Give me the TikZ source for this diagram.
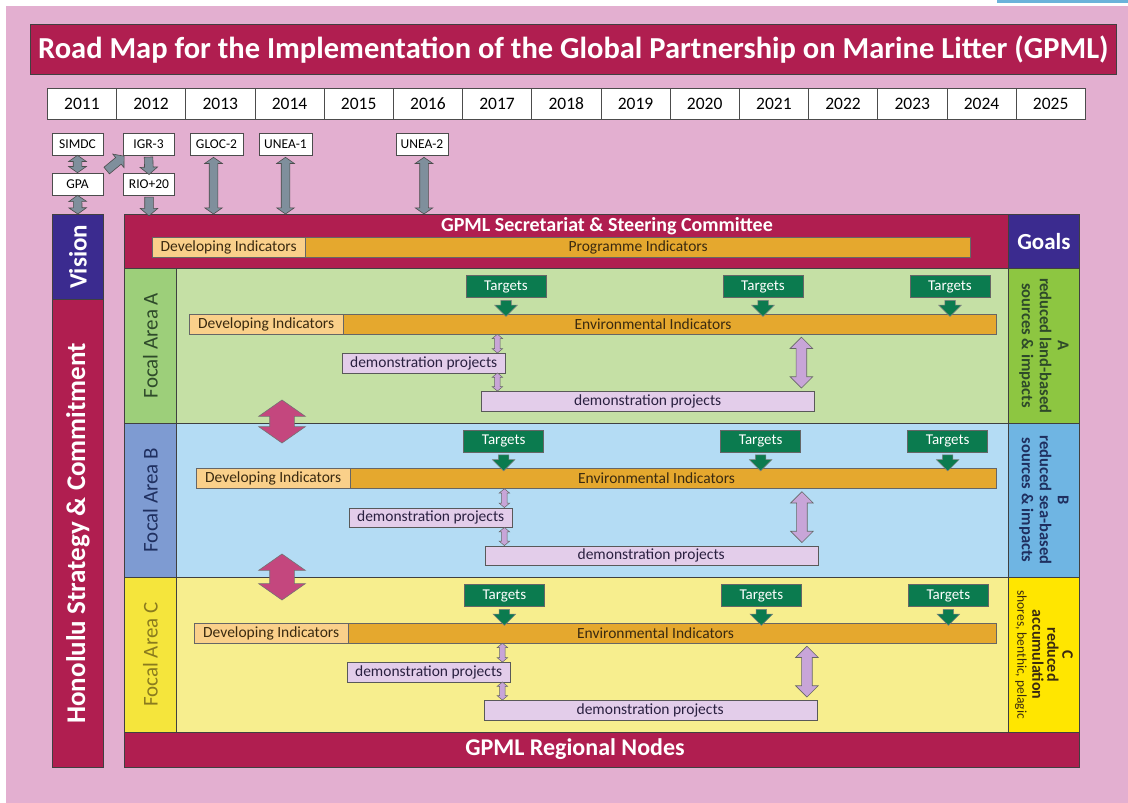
\documentclass[tikz,border=0pt]{standalone}
\usepackage{fontspec}
\setmainfont{Carlito}
\usetikzlibrary{shapes.arrows,calc}

% fat arrow shape stretched between two points
\newcommand{\fatarrow}[3]{%
  \path let \p1=(#2), \p2=(#3),
    \n1={veclen(\x2-\x1,\y2-\y1)}, \n2={atan2(\y2-\y1,\x2-\x1)} in
    node[#1, minimum height=\n1, rotate=\n2] at ($(\p1)!0.5!(\p2)$) {};}

\newcommand{\fs}[1]{\fontsize{#1}{#1}\selectfont}

\begin{document}
\begin{tikzpicture}[x=1pt, y=-1pt,
    bar/.style={draw=black!75, line width=0.7pt, inner sep=0pt},
    yearbox/.style={draw=black!70, fill=white, line width=0.6pt, minimum width=69.2, minimum height=31, inner sep=0pt, anchor=north west, font=\fs{17.5}},
    eventbox/.style={draw=black!70, fill=white, line width=0.6pt, minimum width=51, minimum height=22, inner sep=0pt, font=\fs{13.5}},
    tgtbox/.style={draw=black!60, fill=tgtGreen, text=white, minimum width=80, minimum height=22, inner sep=0pt, font=\fs{15}},
    devbox/.style={draw=black!60, fill=devLight, text=inkText, minimum height=20, inner sep=0pt, anchor=west, font=\fs{15.5}},
    envbox/.style={draw=black!60, fill=envOrange, text=inkText, minimum height=20, inner sep=0pt, anchor=west, font=\fs{15.5}},
    demobox/.style={draw=black!65, fill=demoLilac, text=inkDemo, minimum height=19.5, inner sep=0pt, anchor=west, font=\fs{15.5}},
    greydbl/.style={double arrow, draw=black!70, fill=arrowGrey, line width=0.6pt, inner xsep=0pt, inner ysep=4pt, double arrow head extend=4.5pt, double arrow tip angle=110},
    greysgl/.style={single arrow, draw=black!70, fill=arrowGrey, line width=0.6pt, inner xsep=0pt, inner ysep=4pt, single arrow head extend=4.5pt, single arrow tip angle=100},
    tgtarrow/.style={single arrow, draw=black!50, fill=tgtGreen, line width=0.5pt, inner xsep=0pt, inner ysep=5pt, single arrow head extend=6pt, single arrow tip angle=90},
    lilacsmall/.style={double arrow, draw=black!60, fill=arrowLilac, line width=0.5pt, inner xsep=0pt, inner ysep=2.5pt, double arrow head extend=2.5pt, double arrow tip angle=100},
    lilacbig/.style={double arrow, draw=black!60, fill=arrowLilac, line width=0.6pt, inner xsep=0pt, inner ysep=5pt, double arrow head extend=6pt, double arrow tip angle=90},
    pinkdbl/.style={double arrow, draw=black!55, fill=arrowPink, line width=0.6pt, inner xsep=0pt, inner ysep=12pt, double arrow head extend=11pt, double arrow tip angle=110}]

    \definecolor{pinkBg}{HTML}{E3AFD0}
    \definecolor{topBlue}{HTML}{6BB3DA}
    \definecolor{crimson}{HTML}{B01E50}
    \definecolor{navy}{HTML}{3B2B8F}
    \definecolor{tgtGreen}{HTML}{0B7B4F}
    \definecolor{envOrange}{HTML}{E5A82E}
    \definecolor{devLight}{HTML}{FAD08A}
    \definecolor{demoLilac}{HTML}{E3CDEA}
    \definecolor{arrowLilac}{HTML}{C8A5D8}
    \definecolor{arrowGrey}{HTML}{7F8F9C}
    \definecolor{arrowPink}{HTML}{C4477E}
    \definecolor{inkText}{HTML}{3A2A10}
    \definecolor{inkDemo}{HTML}{2A2040}
    \definecolor{sideA}{HTML}{9DCF7A}
    \definecolor{mainA}{HTML}{C5E0A5}
    \definecolor{goalA}{HTML}{8DC641}
    \definecolor{inkA}{HTML}{2E4A2A}
    \definecolor{sideB}{HTML}{7E9BD2}
    \definecolor{mainB}{HTML}{B4DCF4}
    \definecolor{goalB}{HTML}{6FB5E3}
    \definecolor{inkB}{HTML}{1F2F5F}
    \definecolor{sideC}{HTML}{F5E53C}
    \definecolor{mainC}{HTML}{F7EE8E}
    \definecolor{goalC}{HTML}{FFE600}
    \definecolor{inkC}{HTML}{8A7B1E}

    \useasboundingbox (0,0) rectangle (1128,803);

    % Background
    \fill[white] (0,0) rectangle (1128,803);
    \fill[pinkBg] (6,6) rectangle (1128,803);
    \fill[topBlue] (997,0) rectangle (1128,3);

    % Title
    \node[bar, fill=crimson, minimum width=1086, minimum height=50, anchor=north west] (title) at (30,24) {};
    \node[text=white, font=\fs{30.5}\bfseries] (titletext) at (title) {Road Map for the Implementation of the Global Partnership on Marine Litter (GPML)};

    % Years
    \foreach \yr [count=\i from 0] in {2011,...,2025}
        \node[yearbox] (y\yr) at ({47+69.2*\i},88) {\yr};

    % Events
    \node[eventbox] (simdc) at (77.5,144) {SIMDC};
    \node[eventbox] (gpa) at (77.5,184) {GPA};
    \node[eventbox] (igr) at (148.5,144) {IGR-3};
    \node[eventbox] (rio) at (149,184) {RIO+20};
    \node[eventbox, minimum width=53] (gloc) at (216.5,144) {GLOC-2};
    \node[eventbox, minimum width=53] (uneaone) at (285.5,144) {UNEA-1};
    \node[eventbox, minimum width=52] (uneatwo) at (422,144) {UNEA-2};

    % Vision and Honolulu Strategy
    \node[bar, fill=navy, minimum width=51, minimum height=85, anchor=north west] (vision) at (52,214) {};
    \node[rotate=90, text=white, font=\fs{25}\bfseries] (visiontext) at (vision) {Vision};
    \node[bar, fill=crimson, minimum width=51, minimum height=468, anchor=north west] (hon) at (52,299) {};
    \node[rotate=90, text=white, font=\fs{27}\bfseries] (hontext) at (hon) {Honolulu Strategy \& Commitment};

    % Secretariat and goals header
    \node[bar, fill=crimson, minimum width=884, minimum height=54, anchor=north west] (sec) at (124,214) {};
    \node[text=white, font=\fs{20}\bfseries] (sectext) at (607,226) {GPML Secretariat \& Steering Committee};
    \node[devbox, minimum width=153] (secdev) at (152,247.5) {Developing Indicators};
    \node[envbox, minimum width=665] (secprog) at (secdev.east) {Programme Indicators};
    \node[bar, fill=navy, minimum width=71, minimum height=54, anchor=north west] (goals) at (1008,214) {};
    \node[text=white, font=\fs{23}\bfseries] (goalstext) at (goals) {Goals};

    % Focal areas
    \foreach \k/\top/\dx/\bx in {A/268/0/-13, B/422.5/7/-16, C/577/5/-10} {
        \node[bar, fill=side\k, minimum width=52, minimum height=154.5, anchor=north west] (side\k) at (124,\top) {};
        \node[bar, fill=main\k, minimum width=832, minimum height=154.5, anchor=north west] (main\k) at (176,\top) {};
        \node[bar, fill=goal\k, minimum width=71, minimum height=154.5, anchor=north west] (goal\k) at (1008,\top) {};
        \node[rotate=90, text=ink\k, font=\fs{21}] (lbl\k) at (side\k) {Focal Area \k};

        \node[devbox, minimum width=154] (dev\k) at ({189+\dx},{\top+56}) {Developing Indicators};
        \node[envbox, minimum width={653-\dx}] (env\k) at (dev\k.east) {Environmental Indicators\hbox to 34pt{}};
        \node[demobox, minimum width=163] (demo\k1) at ({342+\dx},{\top+95}) {demonstration projects};
        \node[demobox, minimum width=333] (demo\k2) at ({481+\dx/2},{\top+133}) {demonstration projects};

        % Targets
        \foreach \tx [count=\j] in {506,763,950} {
            \node[tgtbox] (tgt\k\j) at ({\tx-\dx/3},{\top+18.5}) {Targets};
            \fatarrow{tgtarrow}{tgt\k\j.south}{tgt\k\j.south |- env\k.north}
        }

        % Links to demonstration projects
        \coordinate (sa\k) at ($(demo\k1.east)+(-8,0)$);
        \coordinate (ba\k) at ($(demo\k2.east)+(\bx,0)$);
        \fatarrow{lilacsmall}{sa\k |- env\k.south}{sa\k |- demo\k1.north}
        \fatarrow{lilacsmall}{sa\k |- demo\k1.south}{sa\k |- demo\k2.north}
        \fatarrow{lilacbig}{$(ba\k |- env\k.south)+(0,3)$}{$(ba\k |- demo\k2.north)+(0,-3)$}
    }

    % Goal texts
    \node[rotate=-90, align=center, text=inkA, font=\fs{16.5}\bfseries, execute at begin node=\setlength{\baselineskip}{18pt}] (goalAtext) at (goalA) {A\\reduced land-based\\sources \& impacts};
    \node[rotate=-90, align=center, text=inkB, font=\fs{16.5}\bfseries, execute at begin node=\setlength{\baselineskip}{18pt}] (goalBtext) at (goalB) {B\\reduced sea-based\\sources \& impacts};
    \node[rotate=-90, align=center, text=inkText, font=\fs{16}\bfseries, execute at begin node=\setlength{\baselineskip}{15pt}] (goalCtext) at (goalC) {C\\reduced\\accumulation\\{\mdseries\fs{13.5}shores, benthic, pelagic}};

    % Regional nodes
    \node[bar, fill=crimson, minimum width=955, minimum height=35, anchor=north west] (nodes) at (124,732) {};
    \node[text=white, font=\fs{24}\bfseries] (nodestext) at (575,749.5) {GPML Regional Nodes};

    % Links between focal areas
    \coordinate (abtop) at (282,400);
    \coordinate (abbot) at (282,443);
    \coordinate (bctop) at (282,554);
    \coordinate (bcbot) at (282,600);
    \fatarrow{pinkdbl}{abtop}{abbot}
    \fatarrow{pinkdbl}{bctop}{bcbot}

    % Event arrows
    \coordinate (glocstart) at ($(gloc.south)+(-3,2)$);
    \coordinate (unestart) at ($(uneaone.south)+(0,2)$);
    \coordinate (unetwostart) at ($(uneatwo.south)+(2,2)$);
    \fatarrow{greydbl}{simdc.south}{gpa.north}
    \fatarrow{greydbl}{gpa.south}{vision.north}
    \fatarrow{greysgl}{igr.south}{rio.north}
    \fatarrow{greysgl}{rio.south}{rio.south |- sec.north}
    \fatarrow{greysgl}{$(gpa.north east)+(2,-1)$}{$(igr.south west)+(0,2)$}
    \fatarrow{greydbl}{glocstart}{glocstart |- sec.north}
    \fatarrow{greydbl}{unestart}{unestart |- sec.north}
    \fatarrow{greydbl}{unetwostart}{unetwostart |- sec.north}

\end{tikzpicture}
\end{document}
